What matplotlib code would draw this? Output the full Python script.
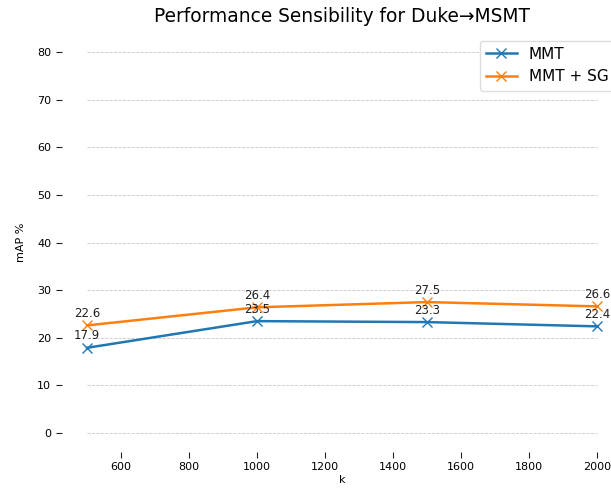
import matplotlib
matplotlib.use("Agg")
import matplotlib.pyplot as plt

k_values = [500, 1000, 1500, 2000]
mmt = [17.9, 23.5, 23.3, 22.4]
mmt_sg = [22.6, 26.4, 27.5, 26.6]
grid_levels = [0, 10, 20, 30, 40, 50, 60, 70, 80]
title = "Performance Sensibility for Duke\u2192MSMT"

fig = plt.figure(figsize=(6.11, 4.93), dpi=100)
ax = fig.add_axes([0.1007, 0.083, 0.918, 0.85])

ax.hlines(grid_levels, k_values[0], k_values[-1], colors="#c8c8c8",
          linestyles="--", linewidth=0.6, zorder=0)

ax.plot(k_values, mmt, marker="x", color="#1f77b4", lw=1.8, ms=7, label="MMT")
ax.plot(k_values, mmt_sg, marker="x", color="#ff7f0e", lw=1.8, ms=7, label="MMT + SG")

for xs, ys in [(k_values, mmt), (k_values, mmt_sg)]:
    for x, y in zip(xs, ys):
        ax.annotate(f"{y}", (x, y), xytext=(0, 4), textcoords="offset points",
                    ha="center", va="bottom", fontsize=8.5, color="#222222")

for s in ax.spines.values():
    s.set_visible(False)
ax.tick_params(axis="both", labelsize=8, length=4, width=0.8, color="#222222")
ax.set_yticks(grid_levels)
ax.set_xlabel("k", fontsize=8, labelpad=2)
ax.set_ylabel("mAP %", fontsize=8, labelpad=8)
ax.set_title(title, fontsize=13.4, pad=8)
ax.legend(loc="upper right", fontsize=11, framealpha=1, edgecolor="#dddddd")

fig.savefig("out.png", dpi=100)
